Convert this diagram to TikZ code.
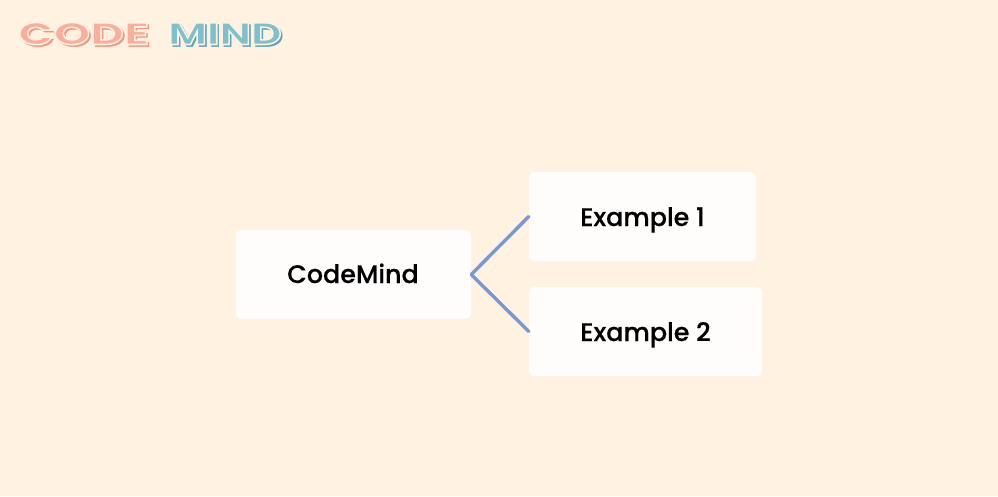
\documentclass[tikz,border=0pt]{standalone}
\usepackage{fontspec}
\setmainfont{Poppins Medium}[FakeBold=0.35]
\newfontfamily\codebase[FakeStretch=1.5,FakeBold=1.6]{Poppins Bold}
\newfontfamily\codeline[FakeStretch=1.5]{Poppins Bold}
\newfontfamily\mindbase[FakeStretch=1.36,FakeBold=1.6]{Poppins Bold}
\newfontfamily\mindline[FakeStretch=1.36]{Poppins Bold}
\definecolor{pagebg}{HTML}{FFF2E1}
\definecolor{boxfill}{HTML}{FFFDFC}
\definecolor{linkblue}{HTML}{7B96D6}
\definecolor{salmon}{HTML}{FCAD9C}
\definecolor{salmondark}{HTML}{F49583}
\definecolor{teal}{HTML}{7FC0CC}
\definecolor{tealdark}{HTML}{5BA6B6}
\tikzset{
  cardbox/.style={fill=boxfill,rounded corners=6pt,inner sep=0pt,minimum height=89pt},
  cardtext/.style={inner sep=0pt,anchor=base,font=\fontsize{25.4}{30}\selectfont,text=black},
  link/.style={draw=linkblue,line width=3.4pt,line cap=round},
  logotext/.style={inner sep=0pt,anchor=base west}
}
\newcommand{\outlinetext}[1]{\special{pdf:code q 1 Tr 1.6 w}#1\special{pdf:code 0 Tr Q}}
% one logo word: shadow, body and inline stacked in one box
\newcommand{\logoword}[5]{%
  \rlap{\kern2pt\raisebox{-2pt}{\color{#4}#1\fontsize{31}{34}\selectfont #5}}%
  \rlap{\color{#3}#1\fontsize{31}{34}\selectfont #5}%
  {\color{pagebg}#2\fontsize{31}{34}\selectfont\outlinetext{#5}}}
\begin{document}
\begin{tikzpicture}[x=1pt,y=-1pt]
\fill[pagebg] (0,0) rectangle (998,496);
\useasboundingbox (0,0) rectangle (998,496);
\node[cardbox,minimum width=235pt] (root) at (353.5,274.5) {};
\node[cardbox,minimum width=227pt] (ex1) at (642.5,216.5) {};
\node[cardbox,minimum width=233pt] (ex2) at (645.5,331.5) {};
\node[cardtext] (roott) at (353,283) {CodeMind};
\node[cardtext] (ex1t) at (642.5,226) {Example 1};
\node[cardtext] (ex2t) at (645.5,341) {Example 2};
\draw[link] (root.east) -- (ex1.west);
\draw[link] (root.east) -- (ex2.west);
% logo
\node[logotext] (code) at (18,44.5) {\logoword{\codebase}{\codeline}{salmon}{salmondark}{CODE}};
\node[logotext] (mind) at (168,44.5) {\logoword{\mindbase}{\mindline}{teal}{tealdark}{MIND}};
\end{tikzpicture}
\end{document}
